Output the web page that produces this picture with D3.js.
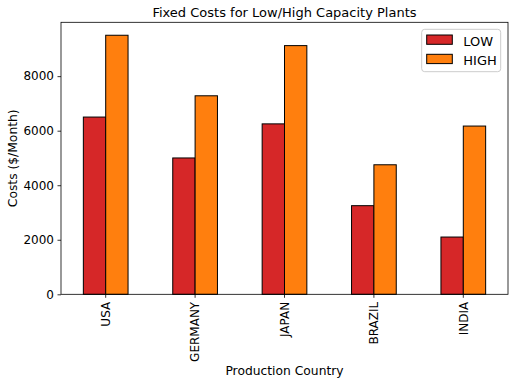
<!DOCTYPE html>
<html>
<head>
<meta charset="utf-8">
<script src="https://cdn.jsdelivr.net/npm/d3@7"></script>
<style>
  html, body { margin: 0; padding: 0; background: #fff; }
  svg { display: block; font-family: "DejaVu Sans", sans-serif; }
</style>
</head>
<body>
<script>
const categories = ["USA", "GERMANY", "JAPAN", "BRAZIL", "INDIA"];
const seriesNames = ["LOW", "HIGH"];
const lowValues = [6500, 5000, 6250, 3250, 2100];
const highValues = [9500, 7280, 9120, 4750, 6170];
const yTicks = [0, 2000, 4000, 6000, 8000];
const colors = ["#d62728", "#ff7f0e"];

const W = 515, H = 385;
const L = 61, R = 508, T = 22.3, B = 294.3;

const svg = d3.select("body").append("svg").attr("width", W).attr("height", H);

const table = categories.map((c, i) => ({ cat: c, LOW: lowValues[i], HIGH: highValues[i] }));
const maxV = d3.max(highValues.concat(lowValues));

const x = d3.scaleBand().domain(categories).range([L, R]).paddingInner(0).paddingOuter(0);
const bw = x.bandwidth() * 0.25;
const xs = d3.scaleBand().domain(seriesNames).range([x.bandwidth() / 2 - bw, x.bandwidth() / 2 + bw]);
const y = d3.scaleLinear().domain([0, maxV * 1.05]).range([B, T]);

// bars
const g = svg.append("g");
table.forEach(d => {
  seriesNames.forEach((s, si) => {
    g.append("rect")
      .attr("x", x(d.cat) + xs(s))
      .attr("y", y(d[s]))
      .attr("width", xs.bandwidth())
      .attr("height", y(0) - y(d[s]))
      .attr("fill", colors[si])
      .attr("stroke", "#000")
      .attr("stroke-width", 1);
  });
});

// y axis
const yAxis = svg.append("g").attr("transform", `translate(${L},0)`)
  .call(d3.axisLeft(y).tickValues(yTicks).tickSize(3.5).tickPadding(3.5).tickFormat(d3.format("d")));
yAxis.select(".domain").remove();
yAxis.selectAll("text").attr("font-size", "12px").attr("fill", "#000").attr("font-family", "DejaVu Sans");
yAxis.selectAll("line").attr("stroke", "#000").attr("stroke-width", 0.8);

// x axis
const xAxis = svg.append("g").attr("transform", `translate(0,${B})`)
  .call(d3.axisBottom(x).tickSize(3.5).tickPadding(3.5));
xAxis.select(".domain").remove();
xAxis.selectAll("line").attr("stroke", "#000").attr("stroke-width", 0.8);
xAxis.selectAll("text")
  .attr("font-size", "12px").attr("fill", "#000").attr("font-family", "DejaVu Sans")
  .attr("transform", "rotate(-90)")
  .attr("text-anchor", "end")
  .attr("x", -7.5)
  .attr("y", 0)
  .attr("dy", "0.35em");

// frame
svg.append("rect").attr("x", L).attr("y", T).attr("width", R - L).attr("height", B - T)
  .attr("fill", "none").attr("stroke", "#000").attr("stroke-width", 0.8);

// title
svg.append("text").attr("x", (L + R) / 2).attr("y", 17).attr("text-anchor", "middle")
  .attr("font-size", "13px").attr("fill", "#000").text("Fixed Costs for Low/High Capacity Plants");

// axis labels
svg.append("text").attr("x", (L + R) / 2).attr("y", 375).attr("text-anchor", "middle")
  .attr("font-size", "12.3px").attr("fill", "#000").text("Production Country");
svg.append("text").attr("transform", `translate(16.5,${(T + B) / 2}) rotate(-90)`).attr("text-anchor", "middle")
  .attr("font-size", "12.3px").attr("fill", "#000").text("Costs ($/Month)");

// legend
const lg = svg.append("g");
lg.append("rect").attr("x", 421.7).attr("y", 29.3).attr("width", 79).attr("height", 42.4)
  .attr("rx", 3).attr("fill", "#fff").attr("fill-opacity", 0.8).attr("stroke", "#cccccc").attr("stroke-width", 1);
seriesNames.forEach((s, i) => {
  const yy = 35 + i * 19.3;
  lg.append("rect").attr("x", 426.7).attr("y", yy).attr("width", 25.6).attr("height", 9.3)
    .attr("fill", colors[i]).attr("stroke", "#000").attr("stroke-width", 1);
  lg.append("text").attr("x", 463.3).attr("y", yy + 10.5).attr("font-size", "13px").attr("fill", "#000").text(s);
});
</script>
</body>
</html>
